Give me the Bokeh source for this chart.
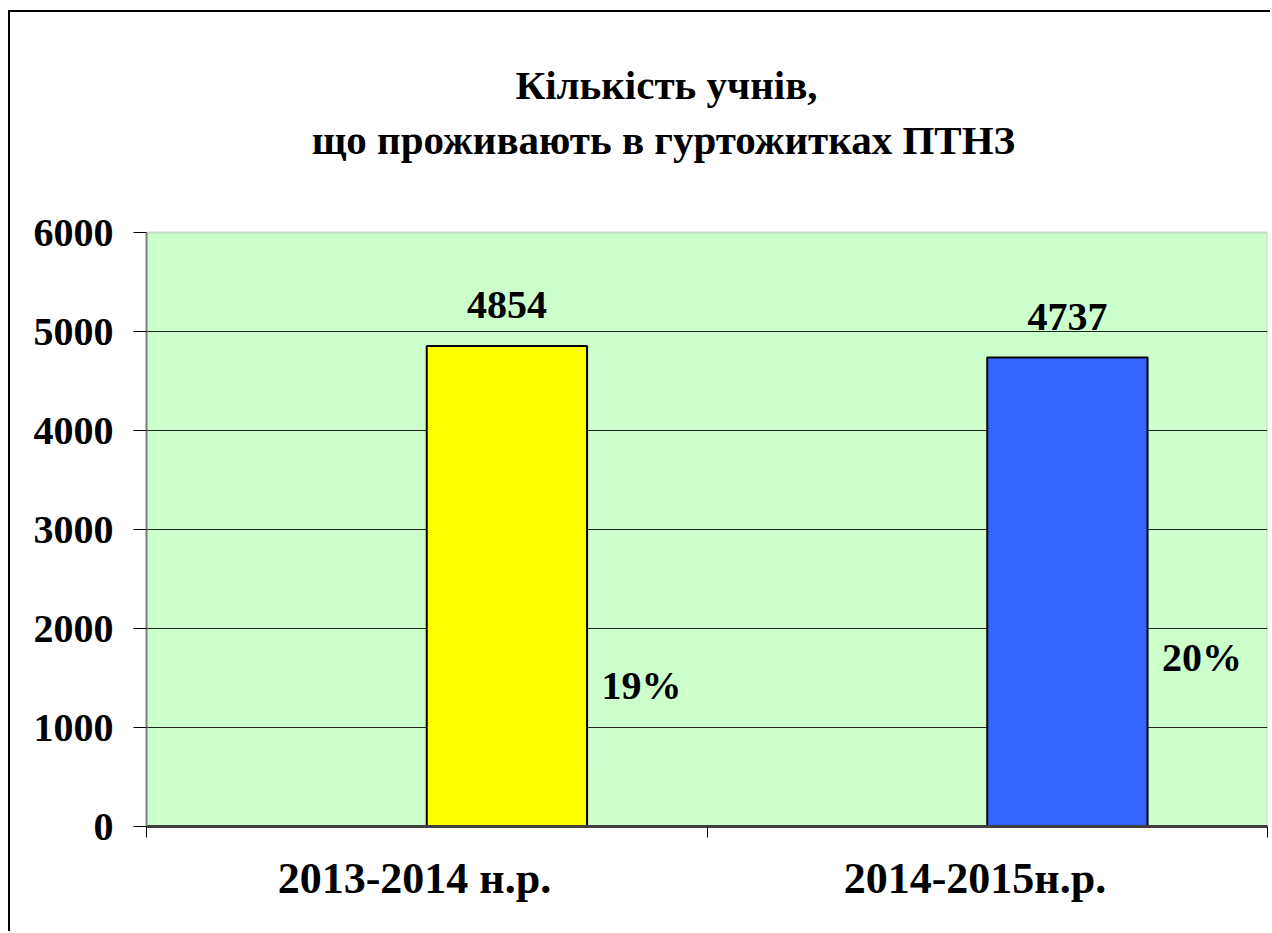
from bokeh.plotting import figure
from bokeh.models import Range1d, FixedTicker, ColumnDataSource, BoxAnnotation
from bokeh.core.properties import value
from bokeh.embed import file_html
from bokeh.resources import INLINE

categories = ["2013-2014 н.р.", "2014-2015н.р."]
students = [4854, 4737]
bar_colors = ["#FFFF00", "#3366FF"]
pct_labels = ["19%", "20%"]
pct_label_y = [1424, 1707]
y_ticks = [0, 1000, 2000, 3000, 4000, 5000, 6000]
title_lines = ["Кількість учнів,", "що проживають в гуртожитках ПТНЗ"]

FONT = "Liberation Serif"
BAR_W = 0.286
Y_TOP = 6000

# layout (page pixels)
CANVAS_X0, CANVAS_Y0 = 10, 12
W, H = 1262, 921
FRAME_L, FRAME_R, FRAME_T, FRAME_B = 146, 1267, 42, 826
PLOT_T = 232
Y_MAX = Y_TOP * (FRAME_B - FRAME_T) / (FRAME_B - PLOT_T)

xs = [i + 0.5 for i in range(len(categories))]
bar_x = [x + BAR_W / 2 for x in xs]
src = ColumnDataSource(dict(x=bar_x, top=students, color=bar_colors,
                            label=[str(v) for v in students]))
pct_src = ColumnDataSource(dict(x=[x + 0.383 for x in xs], y=pct_label_y, label=pct_labels))

p = figure(width=W, height=H, output_backend="svg", toolbar_location=None,
           title_location=None,
           x_range=Range1d(0, len(categories)), y_range=Range1d(0, Y_MAX),
           min_border_left=FRAME_L - CANVAS_X0,
           min_border_right=CANVAS_X0 + W - FRAME_R,
           min_border_top=FRAME_T - CANVAS_Y0,
           min_border_bottom=CANVAS_Y0 + H - FRAME_B)
p.styles = {"border-left": "2px solid black", "border-top": "2px solid black",
            "margin-left": "8px", "margin-top": "10px"}

p.background_fill_color = "white"
p.border_fill_color = "white"
p.outline_line_color = None

# green plot area with grey border
p.add_layout(BoxAnnotation(left=0, right=len(categories), bottom=0, top=Y_TOP,
                           fill_color="#CCFFCC", fill_alpha=1.0,
                           line_color="#808080", line_width=2, level="image"))

# title in page-pixel coordinates
p.extra_x_ranges = {"px": Range1d(FRAME_L, FRAME_R)}
p.extra_y_ranges = {"py": Range1d(FRAME_B, FRAME_T)}
title_src = ColumnDataSource(dict(x=[666, 663], y=[84, 139], t=title_lines))
p.text(x="x", y="y", text="t", text_align="center", text_baseline="alphabetic",
       text_font=value(FONT), text_font_style="bold", text_font_size="41px",
       text_color="black", source=title_src, x_range_name="px", y_range_name="py")

p.vbar(x="x", top="top", width=BAR_W, fill_color="color", line_color="black",
       line_width=2, source=src)
p.text(x="x", y="top", text="label", text_align="center", text_baseline="bottom",
       y_offset=-28, text_font=value(FONT), text_font_style="bold", text_font_size="40px",
       text_color="black", source=src)
p.text(x="x", y="y", text="label", text_align="center", text_baseline="middle",
       text_font=value(FONT), text_font_style="bold", text_font_size="40px",
       text_color="black", source=pct_src)

p.xgrid.visible = False
p.ygrid.ticker = FixedTicker(ticks=y_ticks[1:-1])
p.ygrid.grid_line_color = "#222222"
p.ygrid.grid_line_width = 1

ya = p.yaxis[0]
ya.ticker = FixedTicker(ticks=y_ticks)
ya.bounds = (0, Y_TOP)
ya.axis_line_color = "#808080"
ya.axis_line_width = 2
ya.major_tick_line_color = "black"
ya.major_tick_line_width = 1
ya.major_tick_out = 13
ya.major_tick_in = 0
ya.minor_tick_line_color = None
ya.major_label_standoff = 20
ya.major_label_text_font = FONT
ya.major_label_text_font_style = "bold"
ya.major_label_text_font_size = "40px"
ya.major_label_text_color = "black"

label_x = [x - 0.022 for x in xs]
xa = p.xaxis[0]
xa.ticker = FixedTicker(ticks=label_x, minor_ticks=list(range(len(categories) + 1)))
xa.major_label_overrides = {x: c for x, c in zip(label_x, categories)}
xa.major_tick_line_color = None
xa.minor_tick_line_color = "black"
xa.minor_tick_line_width = 1
xa.minor_tick_out = 11
xa.minor_tick_in = 0
xa.axis_line_color = "#404040"
xa.axis_line_width = 3
xa.major_label_standoff = 16
xa.major_label_text_font = FONT
xa.major_label_text_font_style = "bold"
xa.major_label_text_font_size = "44px"
xa.major_label_text_color = "black"

open("out.html", "w").write(file_html(p, INLINE))
